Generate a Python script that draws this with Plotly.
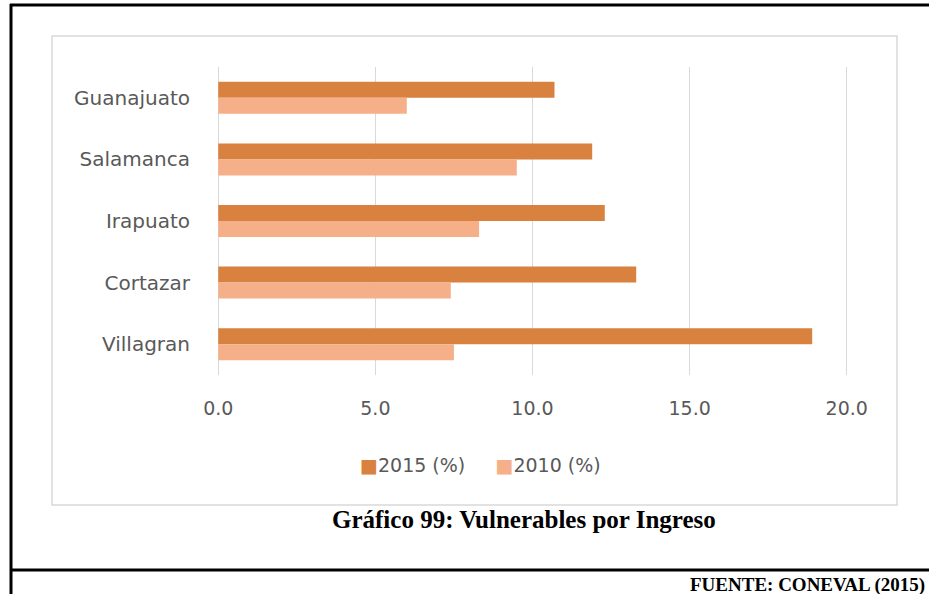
import plotly.graph_objects as go

W, H = 929, 594

categories = ["Guanajuato", "Salamanca", "Irapuato", "Cortazar", "Villagran"]
values_2015 = [10.7, 11.9, 12.3, 13.3, 18.9]
values_2010 = [6.0, 9.5, 8.3, 7.4, 7.5]
series_names = ["2015 (%)", "2010 (%)"]
x_ticks = [0, 5, 10, 15, 20]
x_tick_labels = ["0.0", "5.0", "10.0", "15.0", "20.0"]
title_text = "Gráfico 99: Vulnerables por Ingreso"
source_text = "FUENTE: CONEVAL (2015)"

C2015 = "#D9823F"
C2010 = "#F5B08A"
GRAY = "#595959"
FONT = "'DejaVu Sans', sans-serif"

def px(x):
    return x / W

def py(y):
    return 1 - y / H

fig = go.Figure()
fig.add_trace(go.Bar(y=categories, x=values_2015, name=series_names[0],
                     orientation="h", marker=dict(color=C2015, line=dict(width=0))))
fig.add_trace(go.Bar(y=categories, x=values_2010, name=series_names[1],
                     orientation="h", marker=dict(color=C2010, line=dict(width=0))))

sp = "&nbsp;" * 5
legend_text = (f"<span style='color:{C2015}'>■</span>{series_names[0]}{sp}"
               f"<span style='color:{C2010}'>■</span>{series_names[1]}")

fig.update_layout(
    width=W, height=H,
    margin=dict(l=0, r=0, t=0, b=0, pad=0, autoexpand=False),
    paper_bgcolor="white", plot_bgcolor="white",
    barmode="group", bargap=0.48, bargroupgap=0,
    font=dict(family=FONT, color=GRAY, size=19),
    showlegend=False,
    xaxis=dict(domain=[px(217), px(848)], range=[-0.04, 20.04], tickvals=x_ticks,
               ticktext=x_tick_labels, showgrid=True, gridcolor="#D9D9D9",
               gridwidth=1, zeroline=False, showline=False, automargin=False,
               ticks="outside", ticklen=16, tickcolor="rgba(0,0,0,0)",
               tickfont=dict(size=19, color=GRAY), fixedrange=True),
    yaxis=dict(domain=[py(375), py(67)], autorange="reversed",
               showgrid=False, zeroline=False, showline=False, automargin=False,
               ticks="outside", ticklen=22, tickcolor="rgba(0,0,0,0)",
               tickfont=dict(size=20, color=GRAY)),
    shapes=[
        dict(type="rect", xref="paper", yref="paper", x0=px(52), x1=px(897),
             y0=py(505), y1=py(36), line=dict(color="#D9D9D9", width=1.5),
             layer="below"),
        dict(type="line", xref="paper", yref="paper", x0=px(10), x1=1,
             y0=py(5), y1=py(5), line=dict(color="black", width=3)),
        dict(type="line", xref="paper", yref="paper", x0=px(11), x1=px(11),
             y0=py(4), y1=0, line=dict(color="black", width=3)),
        dict(type="line", xref="paper", yref="paper", x0=px(10), x1=1,
             y0=py(570), y1=py(570), line=dict(color="black", width=3)),
    ],
    annotations=[
        dict(text=legend_text, xref="paper", yref="paper",
             x=px(480), y=py(465), xanchor="center", yanchor="middle",
             showarrow=False, font=dict(size=19, color=GRAY)),
        dict(text="<b>" + title_text + "</b>", xref="paper", yref="paper",
             x=px(524), y=py(519), xanchor="center", yanchor="middle",
             showarrow=False, font=dict(family="Liberation Serif", size=25, color="black")),
        dict(text="<b>" + source_text + "</b>", xref="paper", yref="paper",
             x=px(927), y=py(585), xanchor="right", yanchor="middle",
             showarrow=False, font=dict(family="Liberation Serif", size=19, color="black")),
    ],
)

fig.write_html(
    "out.html",
    config={"responsive": False, "displayModeBar": False},
    post_script="document.body.style.margin='0';document.body.style.padding='0';"
                "document.body.style.overflow='hidden';"
                "document.documentElement.style.overflow='hidden';",
)
